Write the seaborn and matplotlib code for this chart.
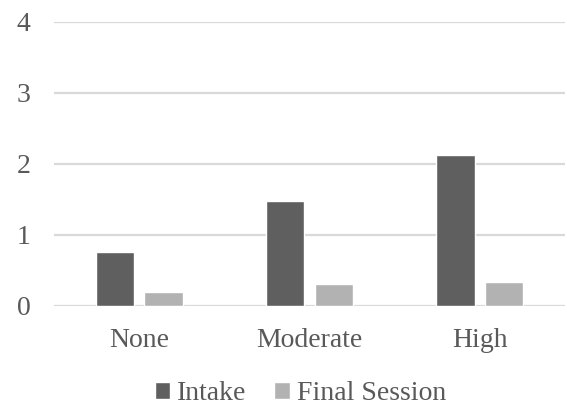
import pandas as pd
import matplotlib.pyplot as plt
import seaborn as sns

# data
categories = ['None', 'Moderate', 'High']
intake = [0.75, 1.48, 2.12]
final_session = [0.19, 0.31, 0.34]
series_names = ['Intake', 'Final Session']
y_ticks = [0, 1, 2, 3, 4]

df = pd.DataFrame({
    'level': categories * 2,
    'series': [series_names[0]] * 3 + [series_names[1]] * 3,
    'value': intake + final_session,
})

sns.set_style("white")
plt.rcParams['font.family'] = ['Liberation Serif', 'DejaVu Serif']
text_color = '#595959'

fig = plt.figure(figsize=(5.67, 4.08), dpi=100)
ax = fig.add_axes([0.0952, 0.2507, 0.9013, 0.6961])

sns.barplot(data=df, x='level', y='value', hue='series', order=categories,
            hue_order=series_names, palette=['#5f5f5f', '#b2b2b2'],
            width=0.571, gap=0.21, saturation=1, ax=ax, legend=True)

ax.set_ylim(0, 4)
ax.set_yticks(y_ticks)
ax.set_xlim(-0.5, 2.5)
ax.yaxis.grid(True, color='#d9d9d9', linewidth=1.6)
ax.set_axisbelow(True)
for s in ax.spines.values():
    s.set_visible(False)
ax.set_xlabel('')
ax.set_ylabel('')
ax.tick_params(axis='x', length=0, pad=16, labelsize=20, labelcolor=text_color)
ax.tick_params(axis='y', length=0, pad=17, labelsize=20, labelcolor=text_color)

# legend at the bottom, square handles
handles, labels = ax.get_legend_handles_labels()
ax.get_legend().remove()
fig.legend(handles, labels, loc='center', bbox_to_anchor=(0.53, 0.035), ncol=2,
           frameon=False, fontsize=20, labelcolor=text_color,
           handlelength=0.55, handleheight=0.55, handletextpad=0.25,
           columnspacing=1.0, borderaxespad=0)

fig.savefig('out.png', dpi=100)
plt.close()
